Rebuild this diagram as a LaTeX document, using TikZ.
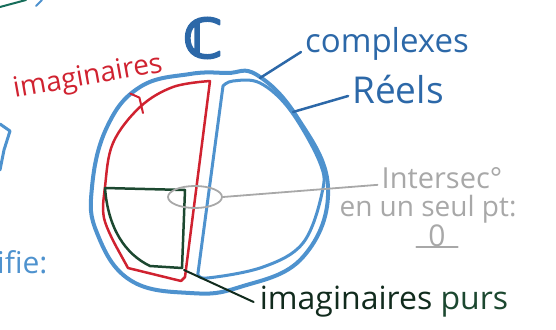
\documentclass[tikz,border=0pt]{standalone}
\usepackage{fontspec}
\setmainfont{Open Sans}
\newfontfamily\symfont[FakeBold=4]{DejaVu Sans}
\usetikzlibrary{positioning}
\usetikzlibrary{calc}
\usetikzlibrary{shapes.geometric}
\definecolor{penblue}{RGB}{78,146,206}
\definecolor{inkblue}{RGB}{44,104,168}
\definecolor{penred}{RGB}{208,34,48}
\definecolor{pengreen}{RGB}{28,72,48}
\definecolor{pengrey}{RGB}{168,168,168}

\begin{document}
\begin{tikzpicture}[x=1pt, y=-1pt, line cap=round, line join=round, every node/.style={inner sep=0pt}]
	\useasboundingbox (0,0) rectangle (556,329);
	% bords de page
	\draw[pengreen!80!cyan,line width=2pt] (0,7) -- (26,0);
	\draw[penblue,line width=2pt] (36,6) -- (42,0);
	\draw[penblue,line width=3pt] (0,124) -- (10,131) -- (4,150) -- (0,170);
	\node[penblue,font=\fontsize{30}{30}\selectfont,anchor=west] (ifie) at (-3,262) {ifie:};
	% ensembles
	\draw[penblue,line width=4pt] plot[smooth cycle,tension=0.7] coordinates {(107,127) (140,87) (190,74) (227,73) (257,75) (297,117) (328,187) (303,257) (240,287) (190,293) (130,280) (97,233) (92,187)};
	\draw[penblue,line width=3pt] plot[smooth,tension=0.6] coordinates {(223,86) (233,81) (260,83) (290,110) (320,163) (322,193) (303,243) (263,267) (207,278) (198,273)} -- cycle;
	\draw[penred,line width=2.5pt] (210,81) -- (185,277) -- (181,281) -- (128,268) -- plot[smooth,tension=0.6] coordinates {(117,248) (104,218) (105,187) (113,143) (140,107) (173,87) (210,81)};
	\draw[pengreen,line width=2.5pt] (105,188) -- (185,190) -- (182,268) -- (150,266) .. controls (125,254) and (108,228) .. (105,188);
	\node[draw=pengrey,line width=1.8pt,ellipse,minimum width=54pt,minimum height=22pt] (isect) at (195,197) {};
	% points d'accroche
	\coordinate (onC) at (260,78);
	\coordinate (onR) at (293,112);
	\coordinate (onI) at (143,113);
	\coordinate (onP) at (184,270);
	% etiquettes
	\node[inkblue,font=\symfont\bfseries\fontsize{54}{54}\selectfont] (C) at (203,38) {ℂ};
	\node[inkblue,font=\fontsize{33}{33}\selectfont] (complexes) at (387,44) {complexes};
	\node[inkblue,font=\fontsize{37}{37}\selectfont] (reels) at (398,90) {Réels};
	\node[penred,font=\fontsize{28}{28}\selectfont,rotate=10] (imag) at (88,78) {imaginaires};
	\node[pengrey,font=\fontsize{29}{29}\selectfont] (intersec) at (442,178) {Intersec°};
	\node[pengrey,font=\fontsize{28}{28}\selectfont] (seul) at (428,209) {en un seul pt:};
	\node[pengrey,font=\fontsize{30}{30}\selectfont,inner xsep=12pt] (zero) at (437,236) {0};
	\node[pengreen!60!black,font=\fontsize{32}{32}\selectfont] (purs) at (384,302) {imaginaires {\color{pengreen}purs}};
	% liens
	\draw[inkblue,line width=2.5pt] ($(complexes.west)+(-4,8)$) -- (onC);
	\draw[inkblue,line width=2.5pt] ($(reels.west)+(-4,6)$) -- (onR);
	\draw[penred,line width=2pt] ($(imag.south)+(40,2)$) -- ++(9,4) -- (onI);
	\draw[pengrey,line width=1.8pt] (isect.east) -- ($(intersec.south west)+(-4,-4)$);
	\draw[pengrey,line width=1.8pt] (zero.south west) -- (zero.south east);
	\draw[pengreen!60!black,line width=2pt] ($(purs.west)+(-6,0)$) -- (onP);
\end{tikzpicture}
\end{document}
